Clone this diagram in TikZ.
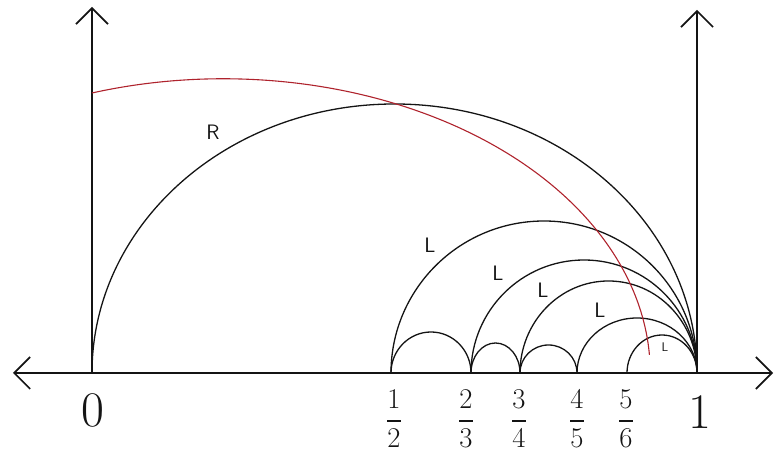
\documentclass[tikz,border=0pt]{standalone}
\usepackage{amsmath}
\usepackage{tikz}
\usetikzlibrary{arrows.meta}
\definecolor{mydark}{RGB}{20,20,20}
\definecolor{myred}{RGB}{175,35,45}
\tikzset{
  chevron/.tip={Straight Barb[length=16pt, width=32pt]},
  axis/.style={line width=1.6pt, color=mydark},
  halfarc/.style={line width=1.3pt, color=mydark},
  redarc/.style={line width=1.1pt, color=myred},
  bigtick/.style={font=\Huge, scale=2.0, color=mydark},
  fractick/.style={font=\Huge, scale=1.15, color=mydark},
  arclabel/.style={font=\Large\sffamily, scale=1.45, color=mydark}
}

\begin{document}
\begin{tikzpicture}[x=1pt, y=1pt]
  \useasboundingbox (-92,-81) rectangle (682,373);
  % points on the real line
  \coordinate (p0) at (0,0);
  \coordinate (p12) at (299,0);
  \coordinate (p23) at (379,0);
  \coordinate (p34) at (428,0);
  \coordinate (p45) at (485,0);
  \coordinate (p56) at (535,0);
  \coordinate (p1) at (605,0);
  \coordinate (xl) at (-79,0);
  \coordinate (xr) at (681,0);
  \coordinate (top0) at (0,366);
  \coordinate (top1) at (605,363);
  % axes
  \draw[axis, chevron-chevron] (xl) -- (xr);
  \draw[axis, -chevron] (p0) -- (top0);
  \draw[axis, -chevron] (p1) -- (top1);
  % big arc from 0 to 1
  \draw[halfarc] (p0) arc[start angle=180, end angle=0, x radius=302.5, y radius=269];
  % arcs ending at 1
  \draw[halfarc] (p12) arc[start angle=180, end angle=0, x radius=153, y radius=152];
  \draw[halfarc] (p23) arc[start angle=180, end angle=0, x radius=113, y radius=113];
  \draw[halfarc] (p34) arc[start angle=180, end angle=0, x radius=88.5, y radius=92];
  \draw[halfarc] (p45) arc[start angle=180, end angle=0, x radius=60, y radius=55];
  \draw[halfarc] (p56) arc[start angle=180, end angle=0, x radius=35, y radius=38];
  % small arcs between neighbours
  \draw[halfarc] (p12) arc[start angle=180, end angle=0, x radius=40, y radius=41];
  \draw[halfarc] (p23) arc[start angle=180, end angle=0, x radius=24.5, y radius=30];
  \draw[halfarc] (p34) arc[start angle=180, end angle=0, x radius=28.5, y radius=28];
  % red arc
  \draw[redarc] (0,280) arc[start angle=107.9, end angle=3.5, x radius=427, y radius=294];
  % tick labels
  \node[bigtick] (lab0) at (1,-37) {$0$};
  \node[bigtick] (lab1) at (608,-39) {$1$};
  \node[fractick] (lab12) at (302,-46) {$\dfrac{1}{2}$};
  \node[fractick] (lab23) at (374,-46) {$\dfrac{2}{3}$};
  \node[fractick] (lab34) at (427,-46) {$\dfrac{3}{4}$};
  \node[fractick] (lab45) at (485,-46) {$\dfrac{4}{5}$};
  \node[fractick] (lab56) at (534,-46) {$\dfrac{5}{6}$};
  % arc labels
  \node[arclabel] (labR) at (121,241) {R};
  \node[arclabel] (labL1) at (338,128) {L};
  \node[arclabel] (labL2) at (406,100) {L};
  \node[arclabel] (labL3) at (451,83) {L};
  \node[arclabel] (labL4) at (508,63) {L};
  \node[arclabel, scale=0.6] (labL5) at (573,26) {L};
\end{tikzpicture}
\end{document}
